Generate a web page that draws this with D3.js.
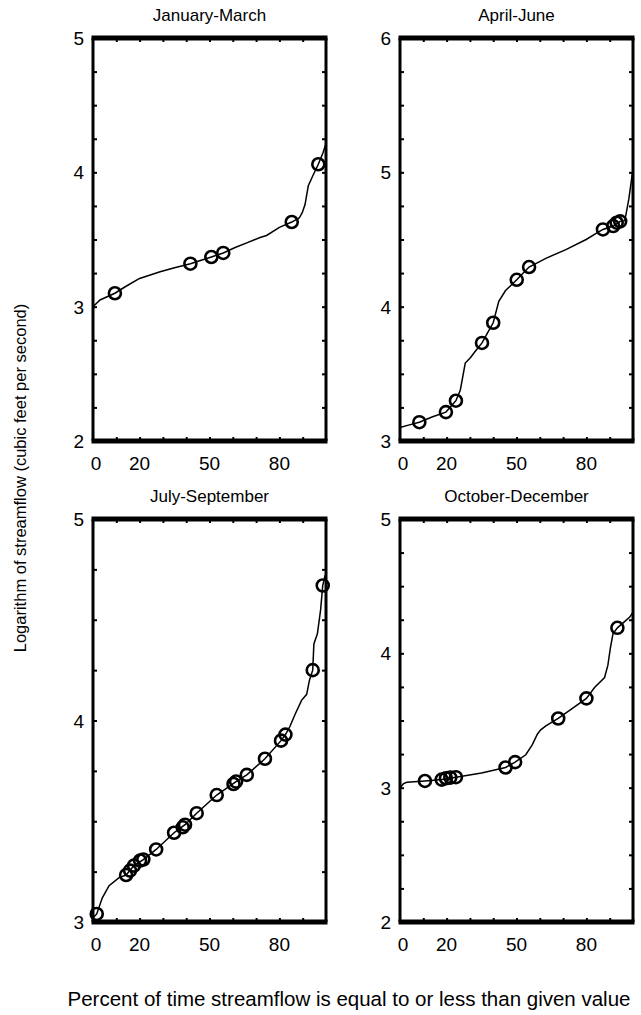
<!DOCTYPE html>
<html>
<head>
<meta charset="utf-8">
<script src="https://cdn.jsdelivr.net/npm/d3@7"></script>
<style>
  body { margin: 0; background: #fff; }
  text { font-family: "Liberation Sans", Arial, Helvetica, sans-serif; fill: #000; }
</style>
</head>
<body>
<div id="chart"></div>
<script>
// Panel titles and y ranges
const titles = ["January-March", "April-June", "July-September", "October-December"];
const yDomains = [[2, 5], [3, 6], [3, 5], [2, 5]];
const xTickLabels = [0, 20, 50, 80];

// Duration curves: [percent, log10(flow)]
const curveJanMar = [
    [0, 3.0], [3, 3.05], [9.4, 3.1], [14, 3.15], [20, 3.21], [28.8, 3.26], [35, 3.29],
    [41.8, 3.32], [50.8, 3.37], [55.9, 3.4], [61, 3.44], [66, 3.475], [71.7, 3.515],
    [74.5, 3.53], [80, 3.59], [85.3, 3.63], [88.5, 3.66], [89.8, 3.7], [91, 3.76],
    [92.4, 3.9], [94.5, 3.98], [96.7, 4.06], [98.8, 4.15], [99.7, 4.2]
];
const curveAprJun = [
    [0, 3.1], [4, 3.12], [8.3, 3.14], [14, 3.18], [19.7, 3.215], [24, 3.3], [25.9, 3.38],
    [28, 3.58], [30.2, 3.62], [32.4, 3.67], [35.2, 3.73], [37.4, 3.8], [40, 3.88],
    [42.4, 4.04], [45.3, 4.12], [50.1, 4.2], [55.4, 4.295], [62.6, 4.36], [71.2, 4.425],
    [79.9, 4.5], [84.2, 4.545], [87.1, 4.575], [91.5, 4.6], [94.5, 4.635], [96.5, 4.64],
    [98.2, 4.8], [99.8, 5.0]
];
const curveJulSep = [
    [0, 3.02], [1.6, 3.04], [4, 3.12], [6.9, 3.18], [11.2, 3.22], [14.2, 3.233],
    [17.6, 3.28], [21.6, 3.31], [27.1, 3.36], [34.8, 3.443], [39.5, 3.483], [44.5, 3.54],
    [53.1, 3.63], [61.4, 3.697], [66, 3.73], [73.8, 3.81], [80.7, 3.9], [82.6, 3.93],
    [84.5, 3.97], [86.7, 4.03], [89.5, 4.1], [91.7, 4.13], [92.9, 4.2], [94.3, 4.25],
    [94.8, 4.38], [96.3, 4.43], [97.7, 4.55], [98.6, 4.67], [99.6, 4.72]
];
const curveOctDec = [
    [0, 3.0], [1.5, 3.03], [3, 3.04], [10.7, 3.05], [17.9, 3.06], [24, 3.078],
    [35, 3.11], [45.3, 3.15], [49.4, 3.19], [54, 3.245], [56.8, 3.32], [59, 3.4],
    [60.4, 3.43], [62.6, 3.46], [67.9, 3.515], [74, 3.59], [80, 3.665], [83.5, 3.745],
    [87.8, 3.82], [89.2, 3.91], [90.3, 4.04], [91.4, 4.145], [93.3, 4.19], [96, 4.23],
    [98.6, 4.27], [99.8, 4.3]
];

// Marked points (circles)
const pointsJanMar = [[9.4, 3.1], [41.8, 3.32], [50.8, 3.37], [55.9, 3.4], [85.3, 3.63], [96.7, 4.06]];
const pointsAprJun = [
    [8.3, 3.14], [19.7, 3.215], [24, 3.3], [35.2, 3.73], [40, 3.88], [50.1, 4.2],
    [55.4, 4.295], [87.1, 4.575], [91.5, 4.6], [93, 4.625], [94.5, 4.635]
];
const pointsJulSep = [
    [1.6, 3.04], [14.2, 3.233], [15.9, 3.255], [17.6, 3.28], [20.2, 3.305], [21.6, 3.31],
    [27.1, 3.36], [34.8, 3.443], [38.5, 3.47], [39.5, 3.483], [44.5, 3.54], [53.1, 3.63],
    [60.3, 3.685], [61.4, 3.697], [66, 3.73], [73.8, 3.81], [80.7, 3.9], [82.6, 3.93],
    [94.3, 4.25], [98.6, 4.67]
];
const pointsOctDec = [
    [10.7, 3.05], [17.9, 3.06], [19.7, 3.07], [21.6, 3.075], [24, 3.078],
    [45.3, 3.15], [49.4, 3.19], [67.9, 3.515], [80, 3.665], [93.3, 4.19]
];

const curves = [curveJanMar, curveAprJun, curveJulSep, curveOctDec];
const points = [pointsJanMar, pointsAprJun, pointsJulSep, pointsOctDec];

// Layout
const width = 641;
const height = 1015;
const colLeft = [93, 400];
const rowTop = [38, 519];
const panelW = 233;
const panelH = 403;
const tickLen = 4;

const svg = d3.select("#chart")
    .append("svg")
    .attr("width", width)
    .attr("height", height);

titles.forEach((title, i) => {
    const x0 = colLeft[i % 2];
    const y0 = rowTop[Math.floor(i / 2)];
    const g = svg.append("g").attr("transform", `translate(${x0},${y0})`);

    const xScale = d3.scaleLinear().domain([0, 100]).range([0, panelW]);
    const yScale = d3.scaleLinear().domain(yDomains[i]).range([panelH, 0]);

    // inward ticks on all four sides
    const xTicks = d3.range(10, 100, 10);
    const yTicks = d3.range(yDomains[i][0] + 0.25, yDomains[i][1], 0.25);

    const bottomAxis = d3.axisBottom(xScale).tickValues(xTicks).tickSize(-tickLen).tickFormat("");
    const topAxis = d3.axisTop(xScale).tickValues(xTicks).tickSize(-tickLen).tickFormat("");
    const leftAxis = d3.axisLeft(yScale).tickValues(yTicks).tickSize(-tickLen).tickFormat("");
    const rightAxis = d3.axisRight(yScale).tickValues(yTicks).tickSize(-tickLen).tickFormat("");

    g.append("g").attr("transform", `translate(0,${panelH})`).call(bottomAxis);
    g.append("g").call(topAxis);
    g.append("g").call(leftAxis);
    g.append("g").attr("transform", `translate(${panelW},0)`).call(rightAxis);
    g.selectAll(".domain").remove();
    g.selectAll(".tick line").attr("stroke", "#000").attr("stroke-width", 2);

    // curve
    g.append("path")
        .datum(curves[i])
        .attr("fill", "none")
        .attr("stroke", "#000")
        .attr("stroke-width", 1.5)
        .attr("d", d3.line()
            .x(d => xScale(d[0]))
            .y(d => yScale(d[1]))
        );

    // circles
    g.selectAll("circle.pt")
        .data(points[i])
        .join("circle")
        .attr("class", "pt")
        .attr("cx", d => xScale(d[0]))
        .attr("cy", d => yScale(d[1]))
        .attr("r", 6)
        .attr("fill", "none")
        .attr("stroke", "#000")
        .attr("stroke-width", 2.6);

    // frame: heavy top/bottom, lighter sides
    g.append("line").attr("x1", 0).attr("x2", 0).attr("y1", 0).attr("y2", panelH)
        .attr("stroke", "#000").attr("stroke-width", 3);
    g.append("line").attr("x1", panelW).attr("x2", panelW).attr("y1", 0).attr("y2", panelH)
        .attr("stroke", "#000").attr("stroke-width", 3);
    g.append("line").attr("x1", -1.5).attr("x2", panelW + 1.5).attr("y1", 0).attr("y2", 0)
        .attr("stroke", "#000").attr("stroke-width", 5);
    g.append("line").attr("x1", -1.5).attr("x2", panelW + 1.5).attr("y1", panelH).attr("y2", panelH)
        .attr("stroke", "#000").attr("stroke-width", 5);

    // y tick labels
    g.selectAll("text.ylab")
        .data(d3.range(yDomains[i][0], yDomains[i][1] + 1))
        .join("text")
        .attr("class", "ylab")
        .attr("x", -9)
        .attr("y", d => yScale(d) + 7)
        .attr("text-anchor", "end")
        .style("font-size", "19px")
        .text(d => d);

    // x tick labels
    g.selectAll("text.xlab")
        .data(xTickLabels)
        .join("text")
        .attr("class", "xlab")
        .attr("x", d => xScale(d) + (d === 0 ? 3 : 0))
        .attr("y", panelH + 29)
        .attr("text-anchor", "middle")
        .style("font-size", "19px")
        .text(d => d);

    // title
    g.append("text")
        .attr("x", panelW / 2)
        .attr("y", -17)
        .attr("text-anchor", "middle")
        .style("font-size", "17px")
        .text(title);
});

// axis titles
svg.append("text")
    .attr("transform", `translate(26,478) rotate(-90)`)
    .attr("text-anchor", "middle")
    .style("font-size", "16.5px")
    .text("Logarithm of streamflow (cubic feet per second)");

svg.append("text")
    .attr("x", 349)
    .attr("y", 1006)
    .attr("text-anchor", "middle")
    .style("font-size", "20.5px")
    .text("Percent of time streamflow is equal to or less than given value");
</script>
</body>
</html>
